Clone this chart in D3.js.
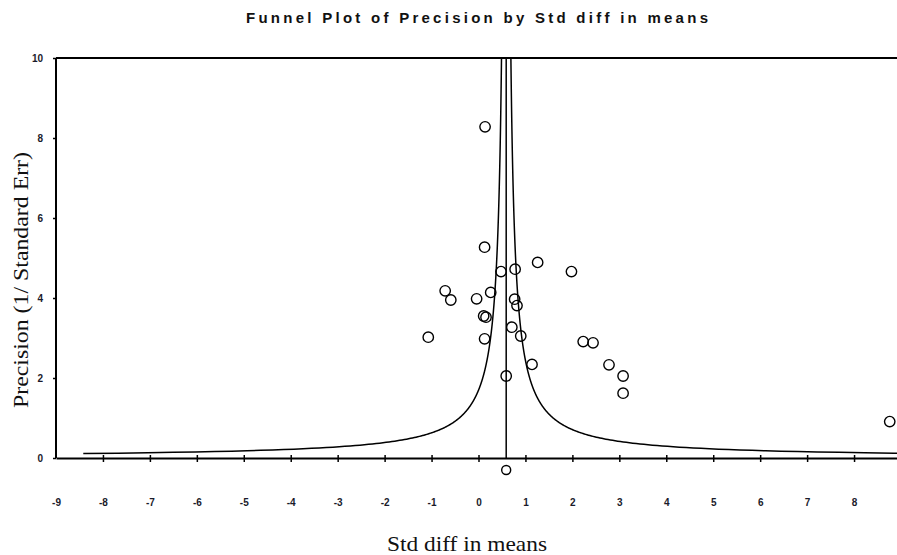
<!DOCTYPE html>
<html>
<head>
<meta charset="utf-8">
<script src="https://cdn.jsdelivr.net/npm/d3@7"></script>
<style>
  body { margin: 0; background: #fff; }
  svg { display: block; }
</style>
</head>
<body>
<svg id="chart"></svg>
<script>
// study values
const studyEffect = [0.14, 0.13, 0.48, 0.78, 1.26, 1.98, -0.71, -0.59, -0.04, 0.26,
  0.77, 0.82, 0.11, 0.16, 0.71, 0.90, -1.07, 0.13, 1.14, 0.59,
  2.23, 2.44, 2.78, 3.08, 3.08, 8.76];
const studyPrecision = [8.28, 5.27, 4.66, 4.72, 4.89, 4.66, 4.18, 3.95, 3.98, 4.14,
  3.97, 3.81, 3.55, 3.52, 3.27, 3.05, 3.02, 2.98, 2.34, 2.05,
  2.91, 2.88, 2.33, 2.05, 1.62, 0.91];
const summaryEffect = 0.59;
const funnelZ = 1.0;
const minPrecision = 0.111;

const xTickValues = [-9, -8, -7, -6, -5, -4, -3, -2, -1, 0, 1, 2, 3, 4, 5, 6, 7, 8, 9];
const yTickValues = [0, 2, 4, 6, 8, 10];

const width = 897, height = 555;
const svg = d3.select("#chart").attr("width", width).attr("height", height);

const x = d3.scaleLinear().domain([-9, 9]).range([56, 901]);
const y = d3.scaleLinear().domain([0, 10]).range([458, 58]);

// clip for funnel lines
svg.append("clipPath").attr("id", "plotClip")
  .append("rect")
  .attr("x", x(-9)).attr("y", y(10))
  .attr("width", x(9) - x(-9)).attr("height", y(0) - y(10));

// title
svg.append("text")
  .attr("x", 477)
  .attr("y", 23)
  .attr("text-anchor", "middle")
  .attr("font-family", "Arial, 'Liberation Sans', sans-serif")
  .attr("font-weight", "bold")
  .attr("font-size", 15)
  .attr("fill", "#111")
  .attr("textLength", 462)
  .attr("lengthAdjust", "spacing")
  .text("Funnel Plot of Precision by Std diff in means");

// frame: top and left
svg.append("line")
  .attr("x1", x(-9)).attr("x2", width)
  .attr("y1", y(10)).attr("y2", y(10))
  .attr("stroke", "#000").attr("stroke-width", 2);
svg.append("line")
  .attr("x1", x(-9)).attr("x2", x(-9))
  .attr("y1", y(10)).attr("y2", y(0))
  .attr("stroke", "#000").attr("stroke-width", 2);

// x axis
const xAxis = d3.axisBottom(x)
  .tickValues(xTickValues)
  .tickSize(0)
  .tickPadding(41)
  .tickFormat(d3.format("d"));
const xg = svg.append("g")
  .attr("transform", `translate(0,${y(0)})`)
  .call(xAxis);
xg.select(".domain").attr("stroke", "#000").attr("stroke-width", 2);
xg.selectAll("text")
  .attr("font-family", "Arial, 'Liberation Sans', sans-serif")
  .attr("font-weight", "bold")
  .attr("font-size", 10)
  .attr("fill", "#1a1a2a")
  .text(d => d3.format("d")(d).replace("−", "-"));
xg.selectAll(".tick")
  .filter(d => d > -9 && d < 9)
  .append("line")
  .attr("y1", -3).attr("y2", 4)
  .attr("stroke", "#000").attr("stroke-width", 1.5);

// y axis
const yAxis = d3.axisLeft(y)
  .tickValues(yTickValues)
  .tickSize(3)
  .tickPadding(10)
  .tickFormat(d3.format("d"));
const yg = svg.append("g")
  .attr("transform", `translate(${x(-9)},0)`)
  .call(yAxis);
yg.select(".domain").remove();
yg.selectAll(".tick line").attr("stroke", "#000").attr("stroke-width", 1.5);
yg.selectAll("text")
  .attr("font-family", "Arial, 'Liberation Sans', sans-serif")
  .attr("font-weight", "bold")
  .attr("font-size", 10)
  .attr("fill", "#1a1a2a");

// funnel (pseudo confidence limits) and summary line
const precLevels = d3.range(minPrecision, 10.001, 0.01).concat([10]);
const funnelLine = d3.line()
  .x(d => x(d[0]))
  .y(d => y(d[1]));
const funnelG = svg.append("g").attr("clip-path", "url(#plotClip)");
funnelG.append("path")
  .datum(precLevels.map(p => [summaryEffect - funnelZ / p, p]))
  .attr("d", funnelLine)
  .attr("fill", "none").attr("stroke", "#000").attr("stroke-width", 1.5);
funnelG.append("path")
  .datum(precLevels.map(p => [summaryEffect + funnelZ / p, p]))
  .attr("d", funnelLine)
  .attr("fill", "none").attr("stroke", "#000").attr("stroke-width", 1.5);

svg.append("line")
  .attr("x1", x(summaryEffect)).attr("x2", x(summaryEffect))
  .attr("y1", y(0)).attr("y2", y(10))
  .attr("stroke", "#000").attr("stroke-width", 1.5);

// studies
const studies = studyEffect.map((e, i) => ({ effect: e, precision: studyPrecision[i] }));
svg.append("g")
  .selectAll("circle")
  .data(studies)
  .join("circle")
  .attr("cx", d => x(d.effect))
  .attr("cy", d => y(d.precision))
  .attr("r", 5.2)
  .attr("fill", "none")
  .attr("stroke", "#000")
  .attr("stroke-width", 1.4);

// summary marker below the axis
svg.append("circle")
  .attr("cx", x(summaryEffect))
  .attr("cy", y(0) + 12)
  .attr("r", 4.5)
  .attr("fill", "none")
  .attr("stroke", "#000")
  .attr("stroke-width", 1.4);

// axis titles
svg.append("text")
  .attr("x", 467)
  .attr("y", 551)
  .attr("text-anchor", "middle")
  .attr("font-family", "'Liberation Serif', 'Times New Roman', serif")
  .attr("font-size", 21)
  .attr("fill", "#111")
  .attr("textLength", 160)
  .attr("lengthAdjust", "spacingAndGlyphs")
  .text("Std diff in means");

svg.append("text")
  .attr("transform", "translate(28,280) rotate(-90)")
  .attr("text-anchor", "middle")
  .attr("font-family", "'Liberation Serif', 'Times New Roman', serif")
  .attr("font-size", 21)
  .attr("fill", "#111")
  .attr("textLength", 256)
  .attr("lengthAdjust", "spacingAndGlyphs")
  .text("Precision (1/ Standard Err)");
</script>
</body>
</html>
